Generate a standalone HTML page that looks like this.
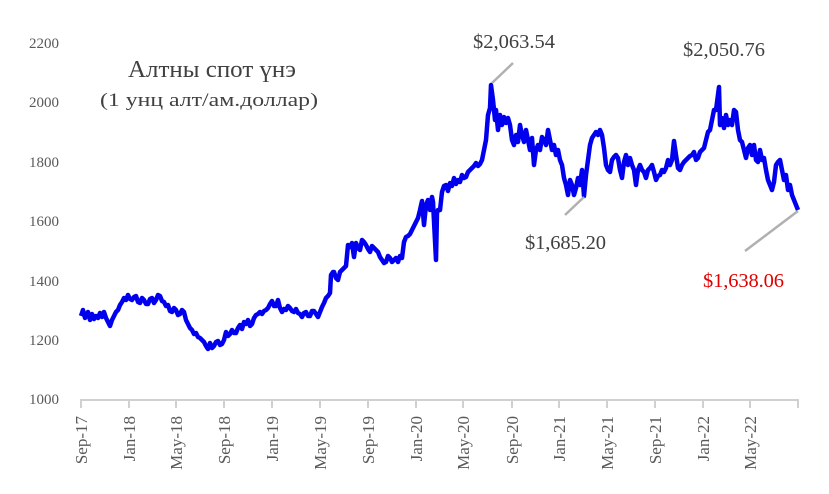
<!DOCTYPE html>
<html><head><meta charset="utf-8"><style>
body{margin:0;background:#fff;}
svg{display:block;font-family:"Liberation Serif",serif;}
</style></head><body>
<svg width="829" height="494" viewBox="0 0 829 494" xmlns="http://www.w3.org/2000/svg">
<rect width="829" height="494" fill="#fff"/>
<g fill="#595959" font-size="15" text-anchor="end">
<text x="59" y="48">2200</text>
<text x="59" y="107">2000</text>
<text x="59" y="167">1800</text>
<text x="59" y="226">1600</text>
<text x="59" y="286">1400</text>
<text x="59" y="345">1200</text>
<text x="59" y="404">1000</text>
</g>
<line x1="80" y1="400" x2="799" y2="400" stroke="#d0d0d0" stroke-width="2"/>
<g stroke="#d0d0d0" stroke-width="2">
<line x1="81" y1="400" x2="81" y2="408"/><line x1="129" y1="400" x2="129" y2="408"/><line x1="176" y1="400" x2="176" y2="408"/><line x1="224" y1="400" x2="224" y2="408"/><line x1="272" y1="400" x2="272" y2="408"/><line x1="320" y1="400" x2="320" y2="408"/><line x1="368" y1="400" x2="368" y2="408"/><line x1="416" y1="400" x2="416" y2="408"/><line x1="463" y1="400" x2="463" y2="408"/><line x1="512" y1="400" x2="512" y2="408"/><line x1="559" y1="400" x2="559" y2="408"/><line x1="607" y1="400" x2="607" y2="408"/><line x1="655" y1="400" x2="655" y2="408"/><line x1="703" y1="400" x2="703" y2="408"/><line x1="750" y1="400" x2="750" y2="408"/><line x1="798" y1="400" x2="798" y2="408"/>
</g>
<g fill="#595959" font-size="17" text-anchor="end">
<text transform="translate(87,416) rotate(-90)">Sep-17</text>
<text transform="translate(135,416) rotate(-90)">Jan-18</text>
<text transform="translate(182,416) rotate(-90)">May-18</text>
<text transform="translate(230,416) rotate(-90)">Sep-18</text>
<text transform="translate(278,416) rotate(-90)">Jan-19</text>
<text transform="translate(326,416) rotate(-90)">May-19</text>
<text transform="translate(374,416) rotate(-90)">Sep-19</text>
<text transform="translate(422,416) rotate(-90)">Jan-20</text>
<text transform="translate(469,416) rotate(-90)">May-20</text>
<text transform="translate(518,416) rotate(-90)">Sep-20</text>
<text transform="translate(565,416) rotate(-90)">Jan-21</text>
<text transform="translate(613,416) rotate(-90)">May-21</text>
<text transform="translate(661,416) rotate(-90)">Sep-21</text>
<text transform="translate(709,416) rotate(-90)">Jan-22</text>
<text transform="translate(756,416) rotate(-90)">May-22</text>
</g>
<polyline fill="none" stroke="#0000ee" stroke-width="4.5" stroke-linejoin="round" points="81,316 83,310 85,318 88,312 90,320 92,314 94,319 96,316 98,318 100,313 102,317 104,312 106,318 108,322 110,326 112,320 114,316 116,312 118,310 120,305 122,302 124,298 126,300 128,295 130,299 132,300 134,297 136,296 138,302 140,303 142,298 144,300 146,304 148,304 150,299 152,298 154,303 156,300 158,295 160,296 162,301 164,302 166,306 168,305 170,311 172,312 174,308 176,310 178,315 180,314 182,310 184,312 186,320 188,324 190,328 192,330 194,334 196,333 198,337 200,338 202,340 204,342 206,346 208,349 210,343 212,348 214,346 216,342 218,341 220,345 222,344 224,340 226,332 228,336 230,334 232,330 234,333 236,333 238,328 240,325 242,329 244,322 246,324 248,320 250,326 252,324 254,318 256,315 258,314 260,312 262,314 264,311 266,310 268,308 270,304 272,301 274,306 276,306 278,300 280,308 282,312 284,309 286,310 288,306 290,308 292,311 294,312 296,309 298,313 300,314 302,317 304,313 306,312 308,316 310,316 312,311 314,311 316,314 318,317 320,312 322,307 324,303 326,298 328,296 330,293 331,275 333,272 334,272 336,278 338,280 340,272 342,270 344,268 346,266 348,245 350,247 352,243 354,257 356,243 358,248 360,250 362,240 364,242 366,245 368,249 370,252 372,246 374,248 376,250 378,252 380,257 382,260 384,263 386,262 388,256 390,258 392,262 394,260 396,258 398,262 400,256 402,258 404,242 406,237 408,236 410,234 412,230 414,226 416,222 418,218 420,210 422,201 424,225 426,205 428,200 430,210 432,197 433,202 436,260 437,213 438,210 440,210 442,192 444,186 446,185 448,191 450,183 452,186 454,178 456,184 458,180 460,182 462,175 464,178 466,177 468,172 470,170 472,168 474,166 476,163 478,166 480,164 482,160 484,150 486,140 488,115 490,108 491,85 493,100 495,120 496,110 498,130 500,115 502,125 504,117 506,123 508,118 510,125 512,140 514,145 516,135 518,142 520,125 522,135 524,142 526,130 528,140 530,150 532,138 534,165 536,150 538,145 540,150 542,137 544,140 546,145 548,130 550,140 552,150 554,145 556,155 558,150 560,160 562,165 564,178 566,185 568,195 570,180 572,185 574,195 576,188 578,178 580,185 582,170 584,196 586,175 588,160 590,145 592,138 594,135 596,132 598,135 600,130 602,135 604,148 606,165 608,170 610,172 612,160 614,157 616,155 618,158 620,170 622,178 624,162 626,155 628,165 630,158 632,165 634,170 636,185 638,170 640,165 642,170 644,172 646,178 648,170 650,168 652,165 654,172 656,180 658,176 660,175 662,170 664,172 666,168 668,160 670,165 672,160 674,141 676,155 678,168 680,170 682,165 684,162 686,160 688,158 690,156 692,155 694,152 696,160 698,158 700,152 702,150 704,148 706,140 708,132 710,130 712,120 714,110 716,110 719,87 720,125 722,118 724,128 726,115 728,125 730,120 732,125 734,110 736,112 738,130 740,140 742,142 744,150 746,158 748,148 750,145 752,155 754,145 756,160 758,162 760,150 762,160 764,158 766,170 768,180 770,185 772,190 774,182 776,165 778,162 780,160 782,170 784,180 786,175 788,190 790,185 792,195 794,200 796,205 798,210"/>
<g stroke="#b0b0b0" stroke-width="2.5">
<line x1="492" y1="83" x2="513" y2="63"/>
<line x1="584" y1="197" x2="565" y2="215"/>
<line x1="798" y1="211" x2="745" y2="251"/>
</g>
<g font-size="20.5" fill="#404040">
<text x="473" y="48" textLength="82">$2,063.54</text>
<text x="525" y="249" textLength="81">$1,685.20</text>
<text x="683" y="56" textLength="82">$2,050.76</text>
<text x="703" y="287" fill="#e00000" textLength="81">$1,638.06</text>
</g>
<text x="128" y="77" font-size="24" fill="#404040" textLength="168" lengthAdjust="spacingAndGlyphs">Алтны спот үнэ</text>
<text x="100" y="106" font-size="19" fill="#404040" textLength="218" lengthAdjust="spacingAndGlyphs">(1 унц алт/ам.доллар)</text>
</svg>
</body></html>
